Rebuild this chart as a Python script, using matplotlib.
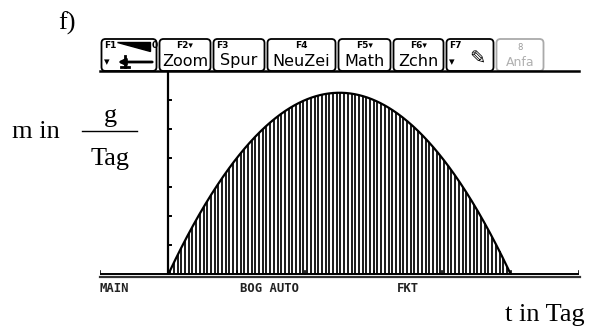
import numpy as np
import matplotlib
matplotlib.use("Agg")
import matplotlib.pyplot as plt
from matplotlib.patches import FancyBboxPatch, Polygon

# Graphed function m(t) = t - 0.04 t^2 (polynomial coefficients, highest power first)
coeffs = [-0.04, 1.0, 0.0]
t_roots = [0.0, 25.0]

# Graph window
x_window = [-5.0, 30.0]
x_step = 5.0
y_window = [-0.104, 7.0]
y_step = 1.0

# Toolbar and status line texts
tab_keys = ["F1", "F2▾", "F3", "F4", "F5▾", "F6▾", "F7", ""]
tab_names = ["", "Zoom", "Spur", "NeuZei", "Math", "Zchn", "", ""]
status_items = ["MAIN", "BOG AUTO", "FKT"]

W, H = 601, 335
fig = plt.figure(figsize=(W / 100, H / 100), dpi=100)

# Background layer in pixel coordinates
bg = fig.add_axes([0, 0, 1, 1])
bg.set_xlim(0, W)
bg.set_ylim(H, 0)
bg.axis("off")

scr_l, scr_r = 100, 579
tool_top, tool_bot = 38, 71
axis_px, div_px = 274, 277

# Graph area
ax = fig.add_axes([scr_l / W, (H - div_px) / H, (scr_r - scr_l) / W, (div_px - tool_bot) / H])
ax.set_xlim(*x_window)
ax.set_ylim(*y_window)
ax.axis("off")

px_x = (scr_r - scr_l) / (x_window[1] - x_window[0])
px_y = (div_px - tool_bot) / (y_window[1] - y_window[0])

# Shading: vertical stripes under the curve
stripe_dt = 3.7 / px_x
ts = np.arange(t_roots[0] + stripe_dt * 0.5, t_roots[1], stripe_dt)
ax.vlines(ts, 0, np.polyval(coeffs, ts), color="black", lw=1.25)

# Curve
t = np.linspace(t_roots[0], t_roots[1], 400)
ax.plot(t, np.polyval(coeffs, t), color="black", lw=1.6, solid_capstyle="butt")

# Axes lines
ax.plot(x_window, [0, 0], color="black", lw=1.4, solid_capstyle="butt")
ax.plot([0, 0], [0, y_window[1]], color="black", lw=1.6, solid_capstyle="butt")
tick_h = 3 / px_y
for xt in np.arange(x_window[0], x_window[1] + 0.01, x_step):
    ax.plot([xt, xt], [0, tick_h], color="black", lw=1.2)
tick_w = 3 / px_x
for yt in np.arange(y_step, y_window[1] + 0.01, y_step):
    ax.plot([0, tick_w], [yt, yt], color="black", lw=1.4)

# Status divider and texts
bg.plot([scr_l, scr_r + 1], [div_px, div_px], color="#333333", lw=1.6)
for txt, x in zip(status_items, [100, 240, 397]):
    bg.text(x, 288.5, txt, fontsize=8.8, fontweight="bold", family="DejaVu Sans Mono",
            ha="left", va="center", color="#222222")

# Toolbar
tab_edges = [100, 158, 212, 266, 337, 392, 445, 495, 545]
for i in range(len(tab_edges) - 1):
    x0, x1 = tab_edges[i], tab_edges[i + 1]
    col = "black" if i < 7 else "#aaaaaa"
    box = FancyBboxPatch((x0 + 1.5, tool_top + 1), x1 - x0 - 3, tool_bot - tool_top - 1,
                         boxstyle="round,pad=0,rounding_size=4", fc="white", ec=col, lw=1.3)
    bg.add_patch(box)
    if tab_keys[i]:
        left = i in (0, 2, 6)
        bg.text(x0 + 4 if left else (x0 + x1) / 2, 45, tab_keys[i], fontsize=6.5,
                fontweight="bold", ha="left" if left else "center", va="center")
    if tab_names[i]:
        bg.text((x0 + x1) / 2, 61, tab_names[i], fontsize=11.5, ha="center", va="center")
bg.plot([scr_l, scr_r], [tool_bot, tool_bot], color="black", lw=1.8)

# F1 icon: wedge and arrow
bg.add_patch(Polygon([[117, 42], [150, 42], [150, 51]], closed=True, fc="black", ec="black"))
bg.text(152, 45, "0", fontsize=6.5, fontweight="bold", ha="left", va="center")
bg.text(104, 62, "▾", fontsize=8, ha="left", va="center")
bg.annotate("", xy=(115, 62), xytext=(155, 62),
            arrowprops=dict(arrowstyle="-|>", color="black", lw=2, mutation_scale=10))
bg.plot([125, 125], [56, 67], color="black", lw=2)
bg.plot([121, 129], [67, 67], color="black", lw=2)
# F7: arrow and pencil
bg.text(449, 62, "▾", fontsize=8, ha="left", va="center")
bg.text(477, 59, "✎", fontsize=14, ha="center", va="center", family="DejaVu Sans")
# greyed tab
bg.text(520, 48, "8", fontsize=6, ha="center", va="center", color="#999999")
bg.text(520, 62, "Anfa", fontsize=9, ha="center", va="center", color="#b0b0b0")

# Labels around the screen
serif = "Liberation Serif"
fig.text(58 / W, 1 - 30 / H, "f)", fontsize=19, family=serif, ha="left", va="baseline")
fig.text(12 / W, 1 - 138 / H, "m in", fontsize=19, family=serif, ha="left", va="baseline")
fig.text(110 / W, 1 - 122 / H, "g", fontsize=19, family=serif, ha="center", va="baseline")
bg.plot([82, 137], [131, 131], color="black", lw=1.0)
fig.text(110 / W, 1 - 165 / H, "Tag", fontsize=19, family=serif, ha="center", va="baseline")
fig.text(505 / W, 1 - 321 / H, "t in Tag", fontsize=19, family=serif, ha="left", va="baseline")

fig.savefig("out.png", dpi=100)
